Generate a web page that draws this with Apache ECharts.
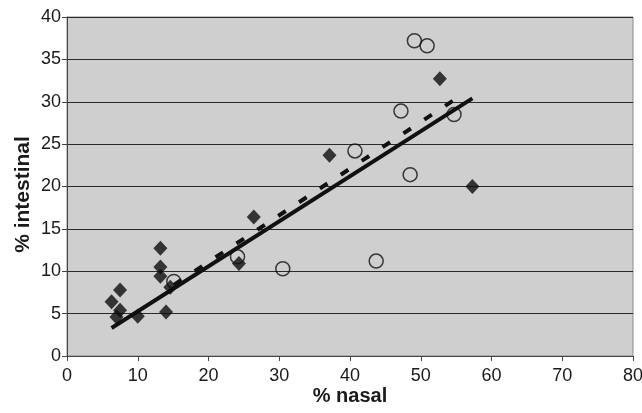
<!doctype html>
<html lang="en">
<head>
<meta charset="UTF-8"/>
<title>% nasal vs % intestinal</title>
<script src="https://cdn.jsdelivr.net/npm/echarts@6/dist/echarts.min.js"></script>
<style>
  html, body { margin: 0; padding: 0; background: #fff; }
  #main { width: 642px; height: 413px; }
</style>
</head>
<body>
<div id="main"></div>
<script type="text/javascript">
// filled diamonds: [% nasal, % intestinal]
var diamonds = [
  [6.3, 6.4], [7.5, 7.8], [7.5, 5.4], [7.0, 4.6], [10.0, 4.7],
  [13.2, 12.7], [13.2, 10.5], [13.2, 9.4], [14.0, 5.2], [14.6, 8.1],
  [24.3, 10.9], [26.4, 16.4], [37.1, 23.7], [52.7, 32.7], [57.3, 20.0]
];
// open circles
var circles = [
  [15.1, 8.8], [24.1, 11.7], [30.5, 10.3], [40.7, 24.2], [43.7, 11.2],
  [47.2, 28.9], [48.5, 21.4], [49.1, 37.2], [50.9, 36.6], [54.7, 28.5]
];
// trend lines (end points)
var solidTrend = [[6.3, 3.3], [57.3, 30.4]];
var dashedTrend = [[15.1, 8.4], [54.7, 30.2]];

var myChart = echarts.init(document.getElementById('main'));
var font = 'Liberation Sans, Arial, sans-serif';

var option = {
  animation: false,
  grid: {
    left: 67, right: 9, top: 17, bottom: 57,
    containLabel: false,
    outerBoundsMode: 'none',
    show: true,
    backgroundColor: '#cfcfcf',
    borderColor: '#8a8a8a',
    borderWidth: 1
  },
  xAxis: {
    type: 'value',
    min: 0, max: 80, interval: 10,
    name: '% nasal',
    nameLocation: 'middle',
    nameGap: 30,
    nameMoveOverlap: false,
    nameTextStyle: { fontFamily: font, fontSize: 20, fontWeight: 'bold', color: '#1a1a1a' },
    axisLine: { show: true, lineStyle: { color: '#444', width: 1 } },
    axisTick: { show: true, length: 5, lineStyle: { color: '#444' } },
    axisLabel: { fontFamily: font, fontSize: 18, color: '#1a1a1a', margin: 11 },
    splitLine: { show: false }
  },
  yAxis: {
    type: 'value',
    min: 0, max: 40, interval: 5,
    name: '% intestinal',
    nameLocation: 'middle',
    nameGap: 33,
    nameMoveOverlap: false,
    nameTextStyle: { fontFamily: font, fontSize: 21, fontWeight: 'bold', color: '#1a1a1a', padding: [0, 16, 0, 0] },
    axisLine: { show: true, lineStyle: { color: '#444', width: 1 } },
    axisTick: { show: true, length: 5, lineStyle: { color: '#444' } },
    axisLabel: { fontFamily: font, fontSize: 18, color: '#1a1a1a', margin: 6 },
    splitLine: { show: true, lineStyle: { color: '#2a2a2a', width: 1 } }
  },
  series: [
    {
      type: 'line',
      data: solidTrend,
      symbol: 'none',
      lineStyle: { color: '#111', width: 4 },
      z: 3
    },
    {
      type: 'line',
      data: dashedTrend,
      symbol: 'none',
      lineStyle: { color: '#111', width: 4, type: [9, 16] },
      z: 3
    },
    {
      type: 'scatter',
      data: diamonds,
      symbol: 'diamond',
      symbolSize: [14, 15],
      itemStyle: { color: '#0d0d0d' },
      z: 4
    },
    {
      type: 'scatter',
      data: circles,
      symbol: 'circle',
      symbolSize: 14,
      itemStyle: { color: 'rgba(0,0,0,0)', borderColor: '#111', borderWidth: 1.5 },
      z: 4
    }
  ]
};

myChart.setOption(option);
</script>
</body>
</html>
